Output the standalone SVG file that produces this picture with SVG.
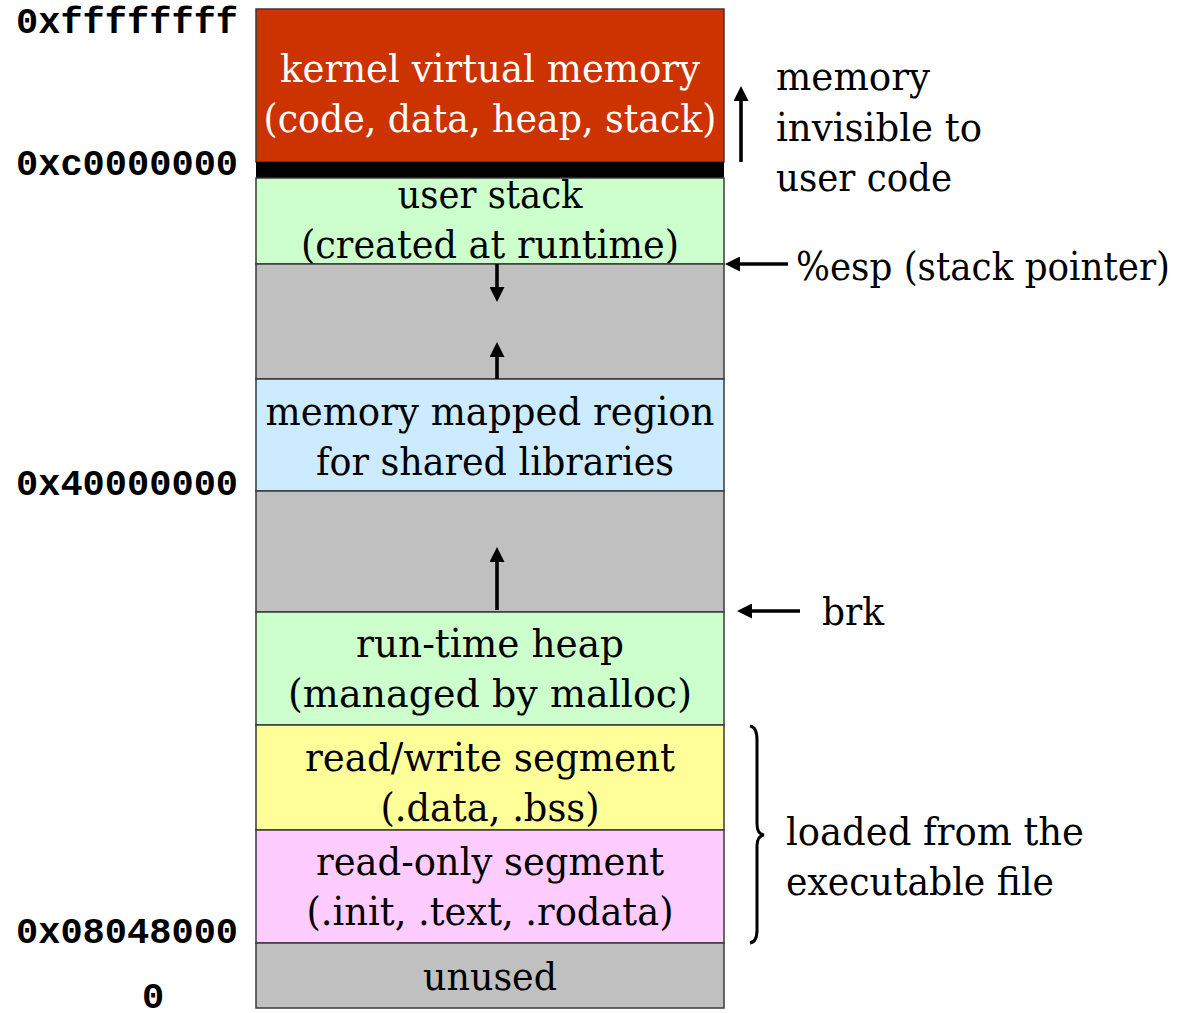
<svg xmlns="http://www.w3.org/2000/svg" width="1185" height="1013" viewBox="0 0 1185 1013">
  <style>
    .seg { stroke: #3a3a3a; stroke-width: 1.5; }
    .lbl { font-family: "DejaVu Serif", "Liberation Serif", serif; font-size: 40px; fill: #000; text-anchor: middle; }
    .lbl.inv { fill: #fff; }
    .note { font-family: "DejaVu Serif", "Liberation Serif", serif; font-size: 40px; fill: #000; }
    .addr { font-family: "Liberation Mono", "DejaVu Sans Mono", monospace; font-weight: bold; font-size: 37px; fill: #000; }
    .arr { stroke: #000; stroke-width: 3.6; fill: none; marker-end: url(#head); }
  </style>
  <defs>
    <marker id="head" viewBox="0 0 10 10" refX="1" refY="5" markerWidth="15" markerHeight="15" markerUnits="userSpaceOnUse" orient="auto">
      <path d="M0,0 L10,5 L0,10 z" fill="#000"/>
    </marker>
  </defs>

  <rect width="1185" height="1013" fill="#fff"/>

  <!-- address labels -->
  <g id="addresses">
    <text class="addr" x="16" y="33">0xffffffff</text>
    <text class="addr" x="16" y="175">0xc0000000</text>
    <text class="addr" x="16" y="495">0x40000000</text>
    <text class="addr" x="16" y="943">0x08048000</text>
    <text class="addr" x="153" y="1008" text-anchor="middle">0</text>
  </g>

  <!-- memory segments, top to bottom -->
  <g id="kernel">
    <rect class="seg" x="256" y="9" width="468" height="153" fill="#cc3300"/>
    <text class="lbl inv" x="490" y="82" textLength="420" lengthAdjust="spacingAndGlyphs">kernel virtual memory</text>
    <text class="lbl inv" x="490" y="132" textLength="453" lengthAdjust="spacingAndGlyphs">(code, data, heap, stack)</text>
  </g>
  <g id="kernel-boundary">
    <rect x="256" y="162" width="468" height="16" fill="#000"/>
  </g>
  <g id="user-stack">
    <rect class="seg" x="256" y="178" width="468" height="86" fill="#ccffcc"/>
    <text class="lbl" x="490" y="208" textLength="185" lengthAdjust="spacingAndGlyphs">user stack</text>
    <text class="lbl" x="490" y="258" textLength="378" lengthAdjust="spacingAndGlyphs">(created at runtime)</text>
  </g>
  <g id="gap-upper">
    <rect class="seg" x="256" y="264" width="468" height="115" fill="#c0c0c0"/>
  </g>
  <g id="shared-libs">
    <rect class="seg" x="256" y="379" width="468" height="112" fill="#ccebff"/>
    <text class="lbl" x="490" y="425" textLength="449" lengthAdjust="spacingAndGlyphs">memory mapped region</text>
    <text class="lbl" x="495" y="475" textLength="358" lengthAdjust="spacingAndGlyphs">for shared libraries</text>
  </g>
  <g id="gap-lower">
    <rect class="seg" x="256" y="491" width="468" height="121" fill="#c0c0c0"/>
  </g>
  <g id="heap">
    <rect class="seg" x="256" y="612" width="468" height="113" fill="#ccffcc"/>
    <text class="lbl" x="490" y="657" textLength="268" lengthAdjust="spacingAndGlyphs">run-time heap</text>
    <text class="lbl" x="490" y="707" textLength="404" lengthAdjust="spacingAndGlyphs">(managed by malloc)</text>
  </g>
  <g id="rw-segment">
    <rect class="seg" x="256" y="725" width="468" height="105" fill="#ffff99"/>
    <text class="lbl" x="490" y="771" textLength="370" lengthAdjust="spacingAndGlyphs">read/write segment</text>
    <text class="lbl" x="490" y="821" textLength="219" lengthAdjust="spacingAndGlyphs">(.data, .bss)</text>
  </g>
  <g id="ro-segment">
    <rect class="seg" x="256" y="830" width="468" height="113" fill="#ffccff"/>
    <text class="lbl" x="490" y="875" textLength="348" lengthAdjust="spacingAndGlyphs">read-only segment</text>
    <text class="lbl" x="490" y="925" textLength="367" lengthAdjust="spacingAndGlyphs">(.init, .text, .rodata)</text>
  </g>
  <g id="unused">
    <rect class="seg" x="256" y="943" width="468" height="65" fill="#c0c0c0"/>
    <text class="lbl" x="490" y="990" textLength="134" lengthAdjust="spacingAndGlyphs">unused</text>
  </g>

  <!-- side notes -->
  <g id="note-kernel">
    <text class="note" x="776" y="90" textLength="154" lengthAdjust="spacingAndGlyphs">memory</text>
    <text class="note" x="776" y="141" textLength="206" lengthAdjust="spacingAndGlyphs">invisible to</text>
    <text class="note" x="776" y="191" textLength="176" lengthAdjust="spacingAndGlyphs">user code</text>
  </g>
  <g id="note-esp">
    <text class="note" x="796" y="280" textLength="374" lengthAdjust="spacingAndGlyphs">%esp (stack pointer)</text>
  </g>
  <g id="note-brk">
    <text class="note" x="822" y="625" textLength="62" lengthAdjust="spacingAndGlyphs">brk</text>
  </g>
  <g id="note-loaded">
    <text class="note" x="786" y="845" textLength="298" lengthAdjust="spacingAndGlyphs">loaded from the</text>
    <text class="note" x="786" y="895" textLength="268" lengthAdjust="spacingAndGlyphs">executable file</text>
  </g>

  <!-- arrows and brace -->
  <g id="connectors">
    <line class="arr" x1="741" y1="162" x2="741" y2="99.5"/>
    <line class="arr" x1="788" y1="264" x2="738.5" y2="264"/>
    <line class="arr" x1="800" y1="611" x2="750.5" y2="611"/>
    <line class="arr" x1="497" y1="264" x2="497" y2="288.5"/>
    <line class="arr" x1="497" y1="379" x2="497" y2="355.5"/>
    <line class="arr" x1="497" y1="610" x2="497" y2="560.5"/>
    <path d="M750,726 Q757,727 757,740 L757,824 Q757,834 764,835 Q757,836 757,846 L757,930 Q757,942 750,943" fill="none" stroke="#000" stroke-width="3"/>
  </g>
</svg>
